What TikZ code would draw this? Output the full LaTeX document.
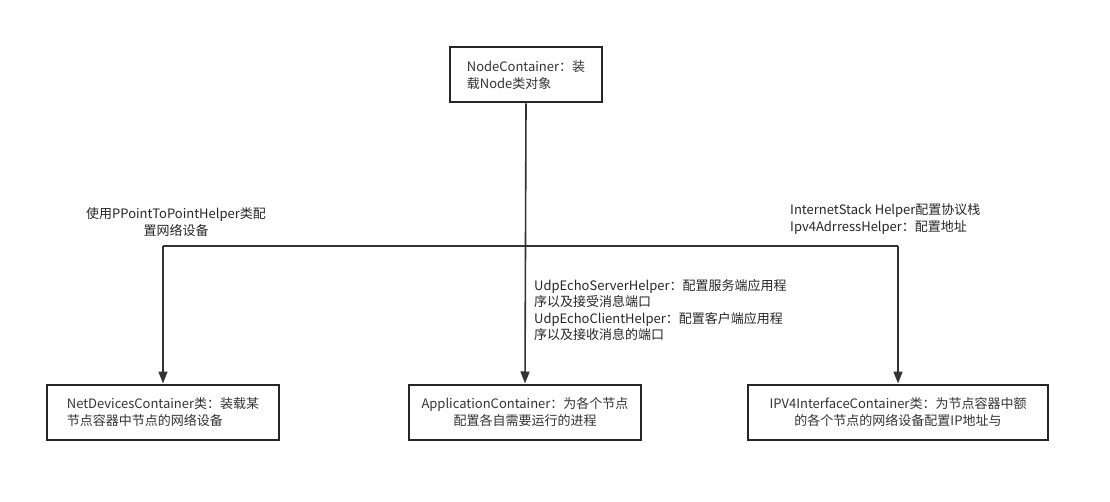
\documentclass[tikz,border=0pt]{standalone}
\usepackage{fontspec}
\setmainfont{Noto Sans CJK SC}
\usepackage{tikz}
\usetikzlibrary{positioning,arrows.meta}
\tikzset{
  box/.style={draw=black!85,line width=2pt,fill=white,minimum height=55pt,inner sep=6pt,text=black!80,font=\fontsize{13}{16.5}\selectfont},
  lbl/.style={text=black!85,inner sep=0pt,font=\fontsize{13}{16.5}\selectfont},
  arr/.style={-{Triangle[length=12pt,width=9pt]},line width=1.6pt,draw=black!80},
  ln/.style={line width=1.6pt,draw=black!80},
}
\begin{document}
\begin{tikzpicture}[x=1pt,y=-1pt]
  \useasboundingbox (0,0) rectangle (1110,502);
  % containers
  \node[box,minimum width=152pt,align=left] (nodecont) at (526,75) {NodeContainer：装\\载Node类对象};
  \node[box,minimum width=232pt,align=left] (netdev) at (163,412) {NetDevicesContainer类：装载某\\节点容器中节点的网络设备};
  \node[box,minimum width=232pt,align=center] (appcont) at (525,412) {ApplicationContainer：为各个节点\\配置各自需要运行的进程};
  \node[box,minimum width=300pt,align=center] (ipcont) at (898,412) {IPV4InterfaceContainer类：为节点容器中额\\的各个节点的网络设备配置IP地址与};
  % branch points
  \coordinate (lc) at (163,246);
  \coordinate (rc) at (898,246);
  \draw[ln] (lc) -- (rc);
  \draw[arr] (nodecont.south) -- (appcont.north);
  \draw[arr] (lc) -- (netdev.north);
  \draw[arr] (rc) -- (ipcont.north);
  % helper labels
  \node[lbl,align=center] (ptplbl) at (176,222) {使用PPointToPointHelper类配\\置网络设备};
  \node[lbl,align=left,anchor=west] (stacklbl) at (790,219) {InternetStack Helper配置协议栈\\Ipv4AdrressHelper：配置地址};
  \node[lbl,align=left,anchor=north west] (udplbl) at (534,279) {UdpEchoServerHelper：配置服务端应用程\\序以及接受消息端口\\UdpEchoClientHelper：配置客户端应用程\\序以及接收消息的端口};
\end{tikzpicture}
\end{document}
